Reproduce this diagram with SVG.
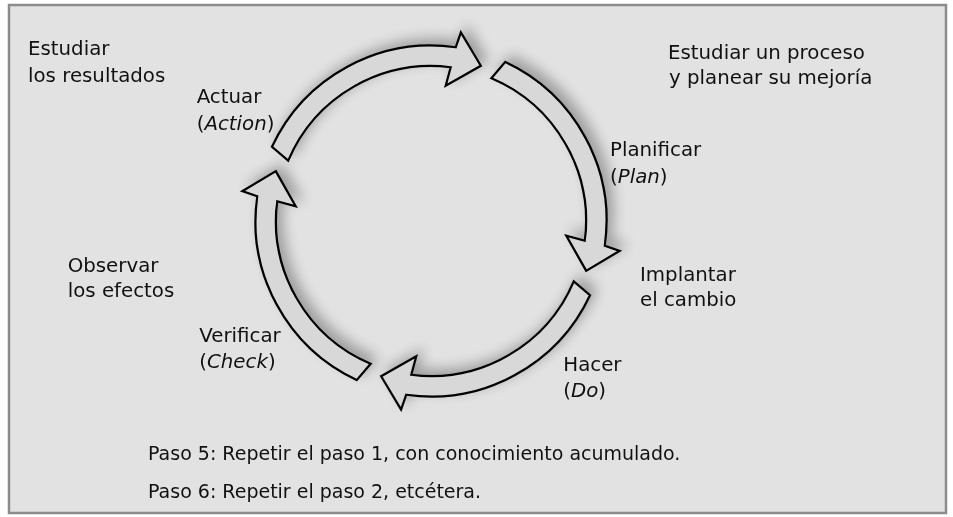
<svg xmlns="http://www.w3.org/2000/svg" xmlns:xlink="http://www.w3.org/1999/xlink" width="953" height="517" viewBox="0 0 953 517">
  <style>
    .lbl { font-family: "DejaVu Sans", "Liberation Sans", sans-serif; font-size: 19.8px; fill: #111111; }
    .step { font-family: "DejaVu Sans", "Liberation Sans", sans-serif; font-size: 19px; fill: #111111; }
    .it { font-style: italic; }
    .arrow { fill: #d8d8d8; stroke: #000; stroke-width: 2.2; stroke-linejoin: miter; }
  </style>
  <defs>
    <filter id="shadow" x="-20%" y="-20%" width="140%" height="140%">
      <feGaussianBlur in="SourceAlpha" stdDeviation="6.5"/>
      <feOffset dx="6" dy="-6" result="b"/>
      <feComponentTransfer in="b" result="s">
        <feFuncA type="linear" slope="0.3"/>
      </feComponentTransfer>
      <feMerge>
        <feMergeNode in="s"/>
        <feMergeNode in="SourceGraphic"/>
      </feMerge>
    </filter>
    <path id="arc-arrow" class="arrow" d="M271.94,146.83 A175.5,175.5 0 0 1 455.73,47.25 L460.88,32.35 L480.83,65.8 L445.69,85.8 L450.69,67.26 A155,155 0 0 0 288.22,160.69 Z"/>
  </defs>

  <rect x="0" y="0" width="953" height="517" fill="#ffffff"/>
  <rect id="frame" x="9" y="5" width="937" height="508" fill="#e2e2e2" stroke="#8c8c8c" stroke-width="2.5"/>

  <g id="connectors" filter="url(#shadow)">
    <use id="arrow-act" href="#arc-arrow" xlink:href="#arc-arrow"/>
    <use id="arrow-plan" href="#arc-arrow" xlink:href="#arc-arrow" transform="rotate(90 431 221)"/>
    <use id="arrow-do" href="#arc-arrow" xlink:href="#arc-arrow" transform="rotate(180 431 221)"/>
    <use id="arrow-check" href="#arc-arrow" xlink:href="#arc-arrow" transform="rotate(270 431 221)"/>
  </g>

  <g id="note-estudiar-resultados">
    <text class="lbl" x="28" y="55">Estudiar</text>
    <text class="lbl" x="28" y="81.7">los resultados</text>
  </g>
  <g id="node-actuar">
    <text class="lbl" x="196.7" y="103.3">Actuar</text>
    <text class="lbl" x="196.7" y="130">(<tspan class="it">Action</tspan>)</text>
  </g>
  <g id="note-estudiar-proceso">
    <text class="lbl" x="668" y="59">Estudiar un proceso</text>
    <text class="lbl" x="669" y="84.3">y planear su mejoría</text>
  </g>
  <g id="node-planificar">
    <text class="lbl" x="610" y="155.7">Planificar</text>
    <text class="lbl" x="610" y="182.7">(<tspan class="it">Plan</tspan>)</text>
  </g>
  <g id="note-implantar">
    <text class="lbl" x="640" y="280.7">Implantar</text>
    <text class="lbl" x="640" y="306">el cambio</text>
  </g>
  <g id="node-hacer">
    <text class="lbl" x="563.3" y="370.7">Hacer</text>
    <text class="lbl" x="563.3" y="397.3">(<tspan class="it">Do</tspan>)</text>
  </g>
  <g id="note-observar">
    <text class="lbl" x="67.7" y="271.7">Observar</text>
    <text class="lbl" x="67.7" y="296.7">los efectos</text>
  </g>
  <g id="node-verificar">
    <text class="lbl" x="199.3" y="341.7">Verificar</text>
    <text class="lbl" x="199.3" y="368.3">(<tspan class="it">Check</tspan>)</text>
  </g>
  <g id="steps">
    <text class="step" x="148" y="460">Paso 5: Repetir el paso 1, con conocimiento acumulado.</text>
    <text class="step" x="148" y="498">Paso 6: Repetir el paso 2, etcétera.</text>
  </g>
</svg>
